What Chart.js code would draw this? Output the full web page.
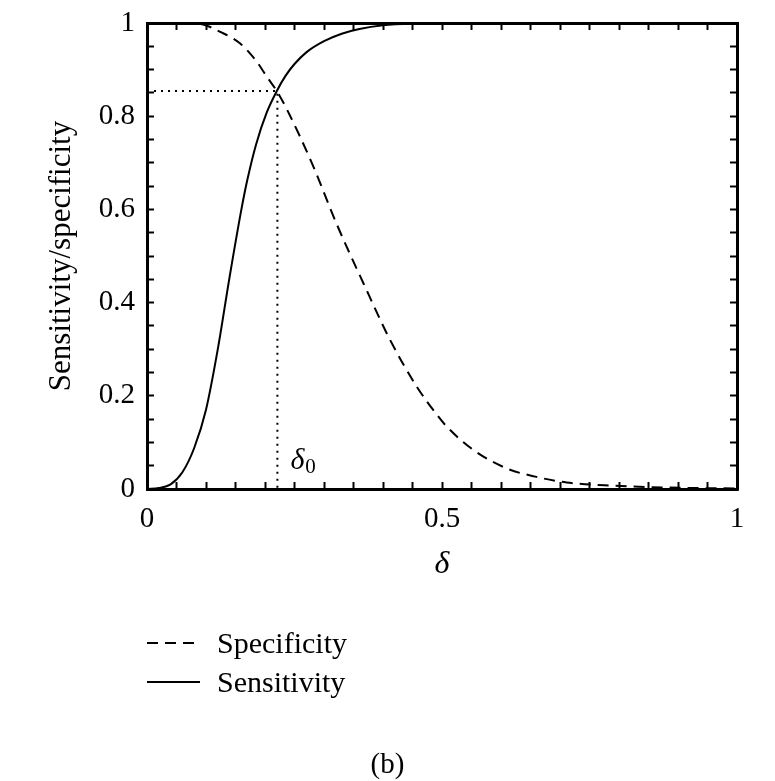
<!DOCTYPE html>
<html>
<head>
<meta charset="utf-8">
<style>
  html, body { margin: 0; padding: 0; background: #fff; }
  #wrap { width: 775px; height: 781px; }
</style>
<script src="https://cdn.jsdelivr.net/npm/chart.js@4.4.1/dist/chart.umd.min.js"></script>
</head>
<body>
<div id="wrap"><canvas id="c" width="775" height="781"></canvas></div>
<script>
// ---- data ----
const sensDelta = [0, 0.02, 0.04, 0.06, 0.08, 0.10, 0.12, 0.14, 0.16, 0.17, 0.185, 0.203, 0.22, 0.235, 0.25, 0.27, 0.30, 0.33, 0.36, 0.40, 0.45, 0.50, 0.60, 0.80, 1.00];
const sensitivity = [0, 0.002, 0.010, 0.036, 0.088, 0.170, 0.300, 0.455, 0.600, 0.663, 0.740, 0.808, 0.854, 0.887, 0.912, 0.937, 0.961, 0.977, 0.987, 0.995, 0.999, 1, 1, 1, 1];

const specDelta = [0, 0.050, 0.090, 0.124, 0.158, 0.186, 0.203, 0.220, 0.237, 0.282, 0.321, 0.367, 0.412, 0.457, 0.491, 0.508, 0.553, 0.610, 0.660, 0.711, 0.790, 0.886, 1.000];
const specificity = [1, 1, 0.998, 0.981, 0.956, 0.917, 0.885, 0.854, 0.815, 0.692, 0.570, 0.441, 0.320, 0.220, 0.160, 0.134, 0.084, 0.044, 0.026, 0.014, 0.007, 0.003, 0.001];

const delta0 = 0.221;
const crossValue = 0.854;

const xTickLabels = ["0", "0.5", "1"];
const yTickLabels = ["0", "0.2", "0.4", "0.6", "0.8", "1"];
const seriesLabels = ["Specificity", "Sensitivity"];
const xTitle = "δ";
const yTitle = "Sensitivity/specificity";
const annotationText = ["δ", "0"];
const panelLabel = "(b)";

// ---- build ----
const toPts = (xs, ys) => xs.map((x, i) => ({ x: x, y: ys[i] }));
const SERIF = "'Liberation Serif', 'DejaVu Serif', serif";

const extrasPlugin = {
  id: 'extras',
  afterDraw(chart) {
    const ctx = chart.ctx;
    const xs = chart.scales.x, ys = chart.scales.y;
    ctx.save();
    ctx.fillStyle = '#000';
    // delta_0 annotation
    const ax = xs.getPixelForValue(delta0) + 13;
    const ay = ys.getPixelForValue(0) - 20;
    ctx.font = "italic 30px " + SERIF;
    ctx.textBaseline = 'alphabetic';
    ctx.textAlign = 'left';
    ctx.fillText(annotationText[0], ax, ay);
    const w = ctx.measureText(annotationText[0]).width;
    ctx.font = "21px " + SERIF;
    ctx.fillText(annotationText[1], ax + w + 1, ay + 4);

    // legend
    const order = seriesLabels.map(l => chart.data.datasets.find(d => d.label === l));
    const left = chart.chartArea.left;
    const baseY = chart.chartArea.bottom + 154;
    order.forEach((ds, i) => {
      const y = baseY + i * 39;
      ctx.beginPath();
      ctx.setLineDash(ds.borderDash || []);
      ctx.lineWidth = ds.borderWidth;
      ctx.strokeStyle = ds.borderColor;
      ctx.moveTo(left, y);
      ctx.lineTo(left + 53, y);
      ctx.stroke();
      ctx.setLineDash([]);
      ctx.font = "30px " + SERIF;
      ctx.fillStyle = '#000';
      ctx.textAlign = 'left';
      ctx.textBaseline = 'alphabetic';
      ctx.fillText(ds.label, left + 70, y + 10);
    });

    // panel label
    ctx.font = "29px " + SERIF;
    ctx.textAlign = 'center';
    ctx.fillText(panelLabel, chart.width / 2, chart.height - 8);
    ctx.restore();
  }
};

const TL = -7;
const gridCommon = {
  drawOnChartArea: false,
  drawTicks: true,
  tickLength: TL,
  tickWidth: 2,
  tickColor: '#000'
};
const borderCommon = { display: true, width: 3, color: '#000' };

new Chart(document.getElementById('c'), {
  type: 'line',
  data: {
    datasets: [
      {
        label: seriesLabels[1],
        data: toPts(sensDelta, sensitivity),
        borderColor: '#000',
        borderWidth: 2,
        pointRadius: 0,
        cubicInterpolationMode: 'monotone',
        fill: false
      },
      {
        label: seriesLabels[0],
        data: toPts(specDelta, specificity),
        borderColor: '#000',
        borderWidth: 2,
        borderDash: [11, 7],
        pointRadius: 0,
        cubicInterpolationMode: 'monotone',
        fill: false
      },
      {
        label: 'threshold',
        data: [{ x: 0, y: crossValue }, { x: delta0, y: crossValue }, { x: delta0, y: 0 }],
        borderColor: '#000',
        borderWidth: 2,
        borderDash: [2, 5],
        pointRadius: 0,
        tension: 0,
        fill: false
      }
    ]
  },
  options: {
    responsive: false,
    animation: false,
    devicePixelRatio: 1,
    layout: { padding: { left: 0, top: 23, right: 38, bottom: 781 - 489 - 100 } },
    plugins: { legend: { display: false }, tooltip: { enabled: false } },
    scales: {
      x: {
        type: 'linear', position: 'bottom', min: 0, max: 1,
        afterFit(s) { s.height = 100; s.paddingLeft = 0; s.paddingRight = 0; },
        ticks: {
          stepSize: 0.05, autoSkip: false, maxRotation: 0, padding: 7 + 13,
          color: '#000', font: { family: SERIF, size: 29 },
          callback(v) {
            const k = Math.round(v * 2);
            return Math.abs(v * 2 - k) < 1e-6 ? xTickLabels[k] : '';
          }
        },
        grid: gridCommon,
        border: borderCommon,
        title: {
          display: true, text: xTitle, color: '#000',
          font: { family: SERIF, size: 32, style: 'italic' },
          padding: { top: 0, bottom: 5 }
        }
      },
      x2: {
        type: 'linear', position: 'top', min: 0, max: 1,
        afterFit(s) { s.height = 0; s.paddingLeft = 0; s.paddingRight = 0; },
        ticks: { stepSize: 0.05, autoSkip: false, callback() { return ''; } },
        grid: gridCommon,
        border: borderCommon
      },
      y: {
        type: 'linear', position: 'left', min: 0, max: 1,
        afterFit(s) { s.width = 147; s.paddingTop = 0; s.paddingBottom = 0; },
        ticks: {
          stepSize: 0.05, autoSkip: false, padding: 7 + 12,
          color: '#000', font: { family: SERIF, size: 29 },
          callback(v) {
            const k = Math.round(v * 5);
            return Math.abs(v * 5 - k) < 1e-6 ? yTickLabels[k] : '';
          }
        },
        grid: gridCommon,
        border: borderCommon,
        title: {
          display: true, text: yTitle, color: '#000',
          font: { family: SERIF, size: 31 },
          padding: { top: 43, bottom: 0 }
        }
      },
      y2: {
        type: 'linear', position: 'right', min: 0, max: 1,
        afterFit(s) { s.width = 0; s.paddingTop = 0; s.paddingBottom = 0; },
        ticks: { stepSize: 0.05, autoSkip: false, callback() { return ''; } },
        grid: gridCommon,
        border: borderCommon
      }
    }
  },
  plugins: [extrasPlugin]
});
</script>
</body>
</html>
